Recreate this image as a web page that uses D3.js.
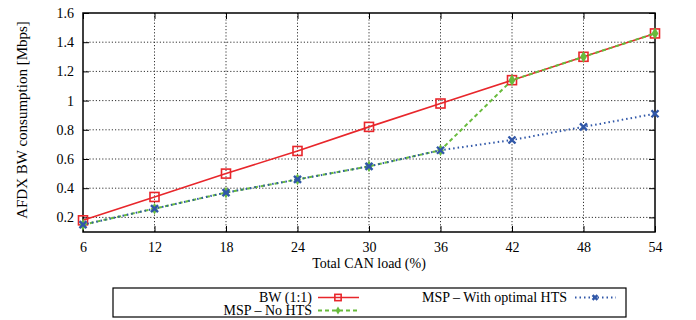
<!DOCTYPE html>
<html lang="en">
<head>
<meta charset="utf-8">
<title>AFDX BW consumption</title>
<script src="https://cdn.jsdelivr.net/npm/d3@7"></script>
<style>
body { margin: 0; background: #fff; }
text { font-family: "Liberation Serif", "Times New Roman", serif; font-size: 14px; fill: #000; }
.grid line { stroke: #333; stroke-width: 1px; stroke-dasharray: 1.2,2; }
.frame { fill: none; stroke: #000; stroke-width: 1.5px; }
</style>
</head>
<body>
<script>
// data
var loads = [6, 12, 18, 24, 30, 36, 42, 48, 54];
var bw11 = [0.18, 0.34, 0.50, 0.655, 0.82, 0.98, 1.14, 1.30, 1.46];
var mspNoHts = [0.15, 0.26, 0.37, 0.46, 0.55, 0.66, 1.14, 1.30, 1.46];
var mspOptHts = [0.15, 0.26, 0.37, 0.46, 0.55, 0.66, 0.73, 0.82, 0.91];
var yTicks = [0.2, 0.4, 0.6, 0.8, 1, 1.2, 1.4, 1.6];

var w = 696, h = 320;
var pl = 83, pr = 655, pt = 13, pb = 232;

var svg = d3.select("body").append("svg")
    .attr("width", w).attr("height", h);

var x = d3.scaleLinear().domain([6, 54]).range([pl, pr]);
var y = d3.scaleLinear().domain([0.1, 1.6]).range([pb, pt]);

// grid
var grid = svg.append("g").attr("class", "grid");
grid.selectAll(".gy").data(yTicks.slice(0, -1)).enter().append("line")
    .attr("x1", pl).attr("x2", pr)
    .attr("y1", function(d){ return y(d); }).attr("y2", function(d){ return y(d); });
grid.selectAll(".gx").data(loads.slice(1, -1)).enter().append("line")
    .attr("y1", pt).attr("y2", pb)
    .attr("x1", function(d){ return x(d); }).attr("x2", function(d){ return x(d); });

// axes (ticks inward, mirrored)
function tidy(g) {
    g.select(".domain").remove();
    g.attr("font-size", null).attr("font-family", null);
    g.selectAll("text").style("font-size", "14px");
}
svg.append("g").attr("transform", "translate(0," + pb + ")")
    .call(d3.axisBottom(x).tickValues(loads).tickSize(-6).tickPadding(10))
    .call(tidy);
svg.append("g").attr("transform", "translate(0," + pt + ")")
    .call(d3.axisTop(x).tickValues(loads).tickSize(-6).tickFormat(""))
    .call(tidy);
svg.append("g").attr("transform", "translate(" + pl + ",0)")
    .call(d3.axisLeft(y).tickValues(yTicks).tickSize(-6).tickPadding(9).tickFormat(d3.format("")))
    .call(tidy);
svg.append("g").attr("transform", "translate(" + pr + ",0)")
    .call(d3.axisRight(y).tickValues(yTicks).tickSize(-6).tickFormat(""))
    .call(tidy);

svg.append("rect").attr("class", "frame")
    .attr("x", pl).attr("y", pt)
    .attr("width", pr - pl).attr("height", pb - pt);

// labels
svg.append("text")
    .attr("transform", "translate(27,120) rotate(-90)")
    .attr("text-anchor", "middle")
    .style("font-size", "15px")
    .text("AFDX BW consumption [Mbps]");
svg.append("text")
    .attr("x", (pl + pr) / 2).attr("y", 268)
    .attr("text-anchor", "middle")
    .text("Total CAN load (%)");

// series
var series = [
    { name: "BW (1:1)", vals: bw11, color: "#e8262b", dash: null, mark: "square" },
    { name: "MSP \u2013 No HTS", vals: mspNoHts, color: "#68bb3c", dash: "4,3", mark: "diamond" },
    { name: "MSP \u2013 With optimal HTS", vals: mspOptHts, color: "#3057a8", dash: "1.5,3", mark: "cross" }
];

var line = d3.line()
    .x(function(d){ return x(d[0]); })
    .y(function(d){ return y(d[1]); });

function drawMark(g, type, color, cx, cy, k) {
    if (type == "square") {
        var s = 4.5 * k;
        g.append("rect").attr("x", cx - s).attr("y", cy - s)
            .attr("width", 2 * s).attr("height", 2 * s)
            .attr("fill", "none").attr("stroke", color).attr("stroke-width", 1.6);
    } else if (type == "diamond") {
        g.append("path").attr("d", d3.symbol().type(d3.symbolDiamond).size(40 * k * k)())
            .attr("transform", "translate(" + cx + "," + cy + ")")
            .attr("fill", color);
    } else {
        var c = 3.5 * k;
        g.append("path")
            .attr("d", "M" + (-c) + "," + (-c) + "L" + c + "," + c + "M" + (-c) + "," + c + "L" + c + "," + (-c))
            .attr("transform", "translate(" + cx + "," + cy + ")")
            .attr("stroke", color).attr("stroke-width", 2.4);
    }
}

series.forEach(function(s){
    var pts = loads.map(function(l, i){ return [l, s.vals[i]]; });
    svg.append("path").datum(pts)
        .attr("d", line)
        .attr("fill", "none")
        .attr("stroke", s.color)
        .attr("stroke-width", s.dash ? 2 : 1.6)
        .attr("stroke-dasharray", s.dash);
    var mg = svg.append("g");
    pts.forEach(function(p){ drawMark(mg, s.mark, s.color, x(p[0]), y(p[1]), 1); });
});

// legend
var lg = svg.append("g");
lg.append("rect").attr("x", 113).attr("y", 288).attr("width", 513).attr("height", 29)
    .attr("fill", "none").attr("stroke", "#000").attr("stroke-width", 1.2);
var legPos = [
    { tx: 312, ty: 302, lx: 318 },
    { tx: 312, ty: 315, lx: 318 },
    { tx: 567, ty: 302, lx: 575 }
];
series.forEach(function(s, i){
    var p = legPos[i];
    lg.append("text").attr("x", p.tx).attr("y", p.ty).attr("text-anchor", "end").text(s.name);
    var cy = p.ty - 4.5;
    lg.append("line").attr("x1", p.lx).attr("x2", p.lx + 41).attr("y1", cy).attr("y2", cy)
        .attr("stroke", s.color).attr("stroke-width", s.dash ? 2 : 1.6)
        .attr("stroke-dasharray", s.dash);
    drawMark(lg, s.mark, s.color, p.lx + 20, cy, 0.7);
});
</script>
</body>
</html>
